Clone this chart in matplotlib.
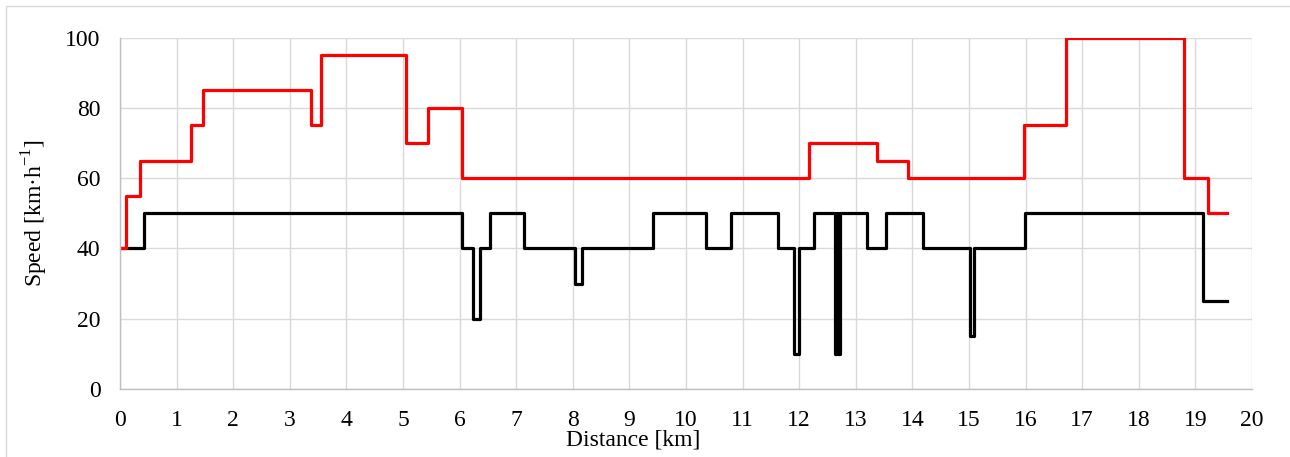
import matplotlib
matplotlib.use("Agg")
import matplotlib.pyplot as plt
from matplotlib.patches import Rectangle

# speed limit (red) and recommended speed (black), step changes along the route
limit_km = [0, 0.1, 0.35, 1.25, 1.47, 3.37, 3.55, 5.06, 5.45, 6.04, 12.18,
            13.37, 13.93, 15.98, 16.71, 18.8, 19.22, 19.55]
limit_speed = [40, 55, 65, 75, 85, 75, 95, 70, 80, 60, 70,
               65, 60, 75, 100, 60, 50, 50]

actual_km = [0, 0.43, 6.04, 6.24, 6.36, 6.53, 7.13, 8.04, 8.16, 9.42, 10.35,
             10.80, 11.62, 11.90, 12.0, 12.27, 12.64, 12.67, 12.69, 12.72,
             13.2, 13.53, 14.18, 15.02, 15.09, 15.99, 19.13, 19.55]
actual_speed = [40, 50, 40, 20, 40, 50, 40, 30, 40, 50, 40,
                50, 40, 10, 40, 50, 10, 50, 10, 50,
                40, 50, 40, 15, 40, 50, 25, 25]

x_ticks = list(range(0, 21))
y_ticks = [0, 20, 40, 60, 80, 100]

plt.rcParams["font.family"] = ["Liberation Serif", "DejaVu Serif"]
plt.rcParams["mathtext.fontset"] = "custom"
plt.rcParams["mathtext.rm"] = "Liberation Serif"

W, H = 1290, 457
fig = plt.figure(figsize=(W / 100, H / 100), dpi=100)
ax = fig.add_axes([120 / W, 1 - 389 / H, 1132 / W, 351.5 / H])

# chart area border (cropped on right/bottom)
fig.patches.append(Rectangle((6 / W, -0.1), 1.2, 1 - 6 / H + 0.1,
                             transform=fig.transFigure, fill=False,
                             edgecolor="#D9D9D9", lw=1.0))

ax.step(actual_km, actual_speed, where="post", color="black", lw=2.3)
ax.step(limit_km, limit_speed, where="post", color="#FF0000", lw=2.3)

ax.set_xlim(0, 20)
ax.set_ylim(0, 100)
ax.set_xticks(x_ticks)
ax.set_yticks(y_ticks)
ax.grid(True, color="#D9D9D9", lw=1.0)
ax.set_axisbelow(True)
for s in ["top", "right"]:
    ax.spines[s].set_visible(False)
for s in ["left", "bottom"]:
    ax.spines[s].set_color("#BFBFBF")
    ax.spines[s].set_linewidth(1.0)
ax.tick_params(length=0, labelsize=17, colors="black")
ax.tick_params(axis="y", pad=14)
ax.tick_params(axis="x", pad=15)

ax.set_xlabel("Distance [km]", fontsize=17)
ax.xaxis.set_label_coords(0.453, -0.115)
ax.set_ylabel("Speed [km·h$^{-1}$]", fontsize=17)
ax.yaxis.set_label_coords(-0.062, 0.5)

fig.savefig("out.png", dpi=100)
